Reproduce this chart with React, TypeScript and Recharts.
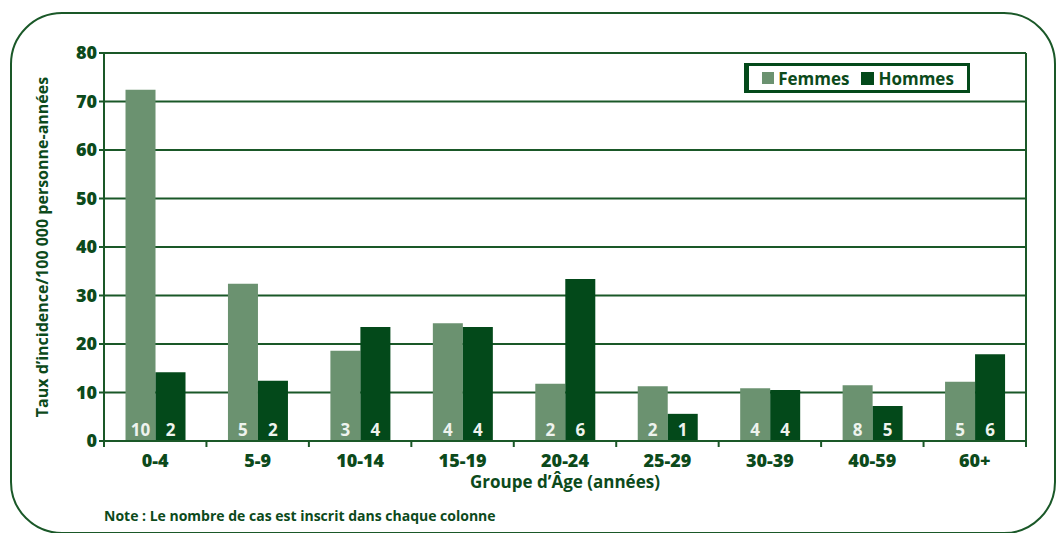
import React from 'react'
import {
  BarChart,
  Bar,
  XAxis,
  YAxis,
  CartesianGrid,
  LabelList,
} from 'recharts'

const ageGroups = ['0-4', '5-9', '10-14', '15-19', '20-24', '25-29', '30-39', '40-59', '60+']
const femmesRate = [72.4, 32.4, 18.6, 24.3, 11.8, 11.3, 10.9, 11.5, 12.2]
const hommesRate = [14.2, 12.4, 23.5, 23.5, 33.4, 5.6, 10.5, 7.2, 17.9]
const femmesCases = [10, 5, 3, 4, 2, 2, 4, 8, 5]
const hommesCases = [2, 2, 4, 4, 6, 1, 4, 5, 6]
const yTicks = [0, 10, 20, 30, 40, 50, 60, 70, 80]

const data = ageGroups.map((group, i) => ({
  group,
  femmes: femmesRate[i],
  hommes: hommesRate[i],
  femmesCases: femmesCases[i],
  hommesCases: hommesCases[i],
}))

const WIDTH = 1058
const HEIGHT = 533
const PLOT_LEFT = 104
const PLOT_RIGHT = 1026
const TEXT = '#0c4a1b'
const LINE = '#1a5828'
const FEMMES = '#6b9270'
const HOMMES = '#03491a'
const FONT = '"Open Sans", "DejaVu Sans", sans-serif'

const bandWidth = (PLOT_RIGHT - PLOT_LEFT) / ageGroups.length

function CategoryTick(props: any) {
  const { x, y, payload, index } = props
  const left = x - bandWidth / 2
  return (
    <g>
      <line x1={left} y1={y - 8} x2={left} y2={y - 2} stroke={LINE} strokeWidth={2} />
      {index === ageGroups.length - 1 && (
        <line x1={left + bandWidth} y1={y - 8} x2={left + bandWidth} y2={y - 2} stroke={LINE} strokeWidth={2} />
      )}
      <text
        x={x}
        y={y + 18}
        textAnchor="middle"
        fill={TEXT}
        fontSize={18}
        fontWeight={800}
        fontFamily={FONT}
      >
        {payload.value}
      </text>
    </g>
  )
}

function LegendBox() {
  return (
    <div
      style={{
        position: 'absolute',
        left: 744,
        top: 63,
        width: 226,
        height: 30,
        boxSizing: 'border-box',
        border: `3px solid ${HOMMES}`,
        borderLeftWidth: 5,
        display: 'flex',
        alignItems: 'center',
        justifyContent: 'center',
        gap: 12,
        fontFamily: FONT,
        fontWeight: 700,
        fontSize: 17,
        color: TEXT,
        background: '#fff',
      }}
    >
      <span style={{ display: 'flex', alignItems: 'center', gap: 4 }}>
        <span style={{ width: 12, height: 12, background: FEMMES, display: 'inline-block' }} />
        Femmes
      </span>
      <span style={{ display: 'flex', alignItems: 'center', gap: 4 }}>
        <span style={{ width: 13, height: 13, background: HOMMES, display: 'inline-block' }} />
        Hommes
      </span>
    </div>
  )
}

const caseLabel = {
  position: 'insideBottom' as const,
  offset: 5,
  fill: '#eef3ee',
  fontSize: 17,
  fontWeight: 700,
  fontFamily: FONT,
}

export default function App() {
  return (
    <div
      style={{
        position: 'absolute',
        left: 0,
        top: 0,
        width: WIDTH,
        height: HEIGHT,
        overflow: 'hidden',
        background: '#fff',
      }}
    >
      <div
        style={{
          position: 'absolute',
          left: 10,
          top: 12,
          width: 1046,
          height: 522,
          border: `2px solid ${LINE}`,
          borderRadius: 52,
          boxSizing: 'border-box',
        }}
      />
      <BarChart
        width={WIDTH}
        height={HEIGHT}
        data={data}
        margin={{ top: 53, right: WIDTH - PLOT_RIGHT - 1, bottom: 62, left: 0 }}
        barCategoryGap="21%"
        barGap={0}
        style={{ position: 'absolute', left: 0, top: 0 }}
      >
        <CartesianGrid yAxisId="left" vertical={false} stroke={LINE} strokeWidth={2} strokeOpacity={1} />
        <XAxis
          dataKey="group"
          height={30}
          axisLine={{ stroke: LINE, strokeWidth: 2 }}
          tickLine={false}
          tick={<CategoryTick />}
          interval={0}
        />
        <YAxis
          yAxisId="left"
          domain={[0, 80]}
          ticks={yTicks}
          width={PLOT_LEFT}
          axisLine={{ stroke: LINE, strokeWidth: 2 }}
          tickLine={{ stroke: LINE, strokeWidth: 2 }}
          tickSize={5}
          tick={{ fill: TEXT, fontSize: 18, fontWeight: 800, fontFamily: FONT }}
          label={{
            value: 'Taux d’incidence/100 000 personne-années',
            angle: -90,
            position: 'insideLeft',
            offset: 42,
            style: {
              textAnchor: 'middle',
              fill: TEXT,
              fontSize: 16,
              fontWeight: 700,
              fontFamily: FONT,
            },
          }}
        />
        <YAxis
          yAxisId="right"
          orientation="right"
          domain={[0, 80]}
          width={1}
          tick={false}
          tickLine={false}
          axisLine={{ stroke: LINE, strokeWidth: 2 }}
        />
        <Bar yAxisId="left" dataKey="femmes" name="Femmes" fill={FEMMES} isAnimationActive={false}>
          <LabelList dataKey="femmesCases" {...caseLabel} />
        </Bar>
        <Bar yAxisId="left" dataKey="hommes" name="Hommes" fill={HOMMES} isAnimationActive={false}>
          <LabelList dataKey="hommesCases" {...caseLabel} />
        </Bar>
      </BarChart>
      <LegendBox />
      <div
        style={{
          position: 'absolute',
          left: 0,
          width: 1130,
          top: 470,
          textAlign: 'center',
          fontFamily: FONT,
          fontWeight: 700,
          fontSize: 17,
          color: TEXT,
        }}
      >
        Groupe d’Âge (années)
      </div>
      <div
        style={{
          position: 'absolute',
          left: 104,
          top: 506,
          fontFamily: FONT,
          fontWeight: 700,
          fontSize: 14,
          color: TEXT,
        }}
      >
        Note : Le nombre de cas est inscrit dans chaque colonne
      </div>
    </div>
  )
}
